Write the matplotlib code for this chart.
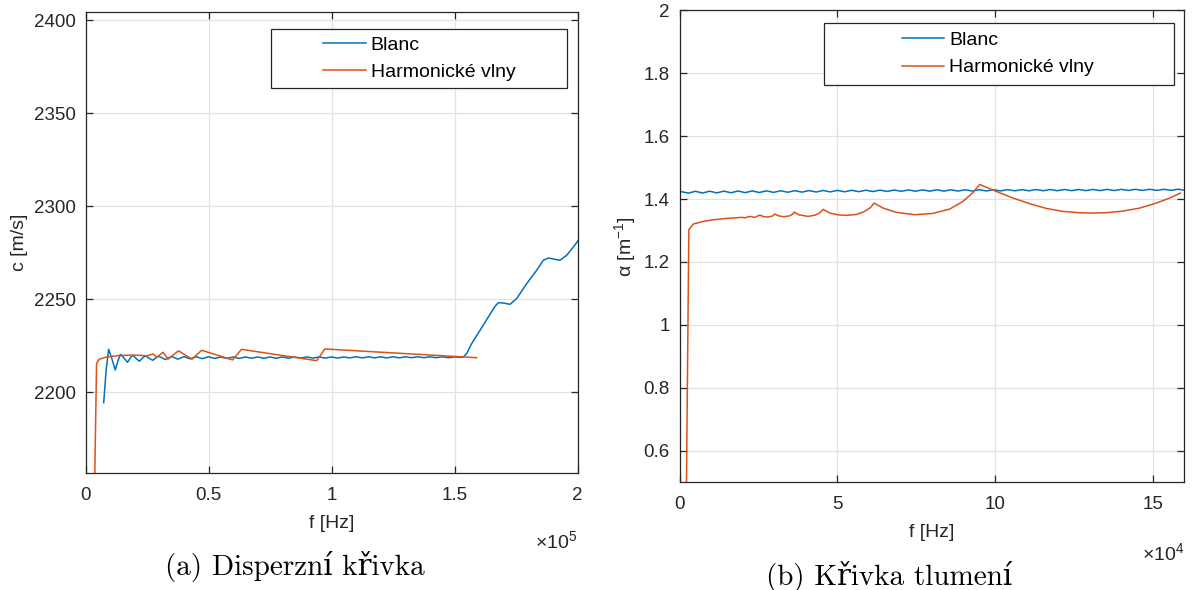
import matplotlib.pyplot as plt
import numpy as np
from matplotlib.patches import Rectangle
from matplotlib.ticker import FormatStrFormatter

plt.rcParams['font.family'] = ['Liberation Sans', 'DejaVu Sans']
plt.rcParams['mathtext.fontset'] = 'custom'
plt.rcParams['mathtext.rm'] = 'Liberation Sans'
plt.rcParams['mathtext.it'] = 'Liberation Sans:italic'

BLUE = '#0072BD'
ORANGE = '#D95319'
DARK = '#262626'

# (a) disperzni krivka - f [Hz], c [m/s]
blanc_a_f = [7400, 8400, 9400, 10500, 12100, 13200, 14200, 15600, 17100, 18200,
             19200, 20500, 21900, 23100, 24300, 25800, 27300, 28500, 29700, 31100, 32500,
             35000, 37500, 40000, 42500, 45000, 47500, 50000, 52500, 55000, 57500,
             60000, 62500, 65000, 67500, 70000, 72500, 75000, 77500, 80000, 82500,
             85000, 87500, 90000, 92500, 95000, 97500, 100000, 102500, 105000, 107500,
             110000, 112500, 115000, 117500, 120000, 122500, 125000, 127500, 130000, 132500,
             135000, 137500, 140000, 142500, 145000, 147500, 150000, 152000,
             153590, 154940, 156980, 160370, 163750, 166460, 167820, 169850, 172560, 175270,
             179340, 183400, 186110, 188140, 190850, 192880, 195600, 198300, 200340]
blanc_a_c = [2194.4, 2212.0, 2223.1, 2219.0, 2212.0, 2217.0, 2220.4, 2218.5, 2216.1, 2218.5,
             2219.9, 2218.3, 2216.7, 2218.3, 2219.6, 2218.4, 2217.2, 2218.4, 2219.4, 2218.5, 2217.6,
             2219.3, 2217.8, 2219.2, 2218.0, 2219.1, 2218.1, 2219.1, 2218.2, 2219.0, 2218.2,
             2219.0, 2218.2, 2219.0, 2218.3, 2219.0, 2218.3, 2219.0, 2218.3, 2219.0, 2218.3,
             2219.0, 2218.4, 2219.0, 2218.4, 2219.0, 2218.4, 2219.0, 2218.4, 2219.0, 2218.5,
             2219.1, 2218.5, 2219.1, 2218.5, 2219.1, 2218.5, 2219.1, 2218.5, 2219.1, 2218.6,
             2219.1, 2218.6, 2219.1, 2218.6, 2219.1, 2218.6, 2219.0, 2218.8,
             2219.0, 2220.8, 2226.2, 2233.3, 2240.5, 2246.2, 2248.2, 2248.0, 2247.3, 2250.4,
             2258.4, 2265.6, 2271.0, 2272.2, 2271.5, 2271.0, 2273.7, 2278.1, 2281.7]

harm_a_f = [3700, 4500, 5600, 8300, 13700, 20500, 24800, 27500, 29000, 31500,
            33600, 37800, 43300, 47200, 59800, 63400, 94000, 97300, 159000]
harm_a_c = [2150.0, 2215.6, 2217.8, 2218.9, 2219.8, 2220.0, 2219.6, 2220.6, 2218.8, 2221.5,
            2217.9, 2222.3, 2217.8, 2222.6, 2217.4, 2223.1, 2217.0, 2223.3, 2218.6]

# (b) krivka tlumeni - f [Hz], alpha [1/m]
blanc_b_f = [500, 2750, 5000, 7250, 9500, 11750, 14000, 16250, 18500, 20750,
             23000, 25250, 27500, 29750, 32000, 34250, 36500, 38750, 41000, 43250,
             45500, 47750, 50000, 52250, 54500, 56750, 59000, 61250, 63500, 65750,
             68000, 70250, 72500, 74750, 77000, 79250, 81500, 83750, 86000, 88250,
             90500, 92750, 95000, 97250, 99500, 101750, 104000, 106250, 108500, 110750,
             113000, 115250, 117500, 119750, 122000, 124250, 126500, 128750, 131000, 133250,
             135500, 137750, 140000, 142250, 144500, 146750, 149000, 151250, 153500, 155750,
             158000, 160250]
blanc_b_a = [1.4235, 1.4189, 1.4247, 1.4192, 1.4250, 1.4196, 1.4252, 1.4200, 1.4256, 1.4204,
             1.4259, 1.4208, 1.4262, 1.4212, 1.4264, 1.4216, 1.4267, 1.4220, 1.4270, 1.4224,
             1.4273, 1.4228, 1.4276, 1.4231, 1.4279, 1.4235, 1.4281, 1.4239, 1.4284, 1.4242,
             1.4287, 1.4246, 1.4290, 1.4249, 1.4292, 1.4251, 1.4294, 1.4253, 1.4294, 1.4255,
             1.4295, 1.4256, 1.4296, 1.4258, 1.4297, 1.4259, 1.4299, 1.4262, 1.4300, 1.4263,
             1.4302, 1.4265, 1.4303, 1.4266, 1.4304, 1.4267, 1.4305, 1.4268, 1.4306, 1.4270,
             1.4307, 1.4271, 1.4308, 1.4273, 1.4310, 1.4274, 1.4311, 1.4275, 1.4312, 1.4276,
             1.4313, 1.4277]

harm_b_f = [2100, 2900, 4300, 7500, 10600, 14900, 17000, 18600, 19600, 20700,
            22300, 23700, 25400, 26500, 27800, 29300, 30200, 31400, 33000, 34800,
            35800, 36300, 37800, 40700, 43000, 44500, 45500, 47500, 50000, 52900,
            56000, 58500, 60500, 61600, 64500, 68700, 74500, 80300, 85600, 89800,
            93000, 95100, 100400, 105700, 111000, 116200, 121500, 126800, 130000, 135200,
            140500, 145800, 151100, 155300, 158700]
harm_b_a = [0.45, 1.3025, 1.3206, 1.329, 1.3343, 1.3384, 1.3400, 1.3410, 1.3418, 1.3405,
            1.3449, 1.3418, 1.3491, 1.3445, 1.3428, 1.3455, 1.3523, 1.3465, 1.3439, 1.3465,
            1.3520, 1.3586, 1.3500, 1.3449, 1.3490, 1.3570, 1.3671, 1.3560, 1.3500, 1.3481,
            1.3510, 1.3600, 1.3730, 1.3872, 1.3713, 1.3576, 1.3502, 1.3544, 1.3682, 1.3925,
            1.4210, 1.4464, 1.4242, 1.4031, 1.3851, 1.3703, 1.3607, 1.3565, 1.3555, 1.3565,
            1.3618, 1.3713, 1.3872, 1.4031, 1.4190]

W, H = 1195, 590
fig = plt.figure(figsize=(W / 100, H / 100), dpi=100)

def px_axes(x0, y0, x1, y1):
    return fig.add_axes([x0 / W, 1 - y1 / H, (x1 - x0) / W, (y1 - y0) / H])

def style(ax):
    ax.grid(True, color='#e2e2e2', lw=0.9)
    ax.set_axisbelow(True)
    for s in ax.spines.values():
        s.set_color(DARK)
        s.set_linewidth(0.9)
    ax.tick_params(direction='in', length=5, width=0.9, top=True, right=True,
                   colors=DARK, labelsize=13.5)
    ax.tick_params(axis='x', pad=10)
    ax.tick_params(axis='y', pad=7)

def legend_box(ax, x0, y0, x1, y1, lx, ly):
    ax.add_patch(Rectangle((x0 / W, 1 - y1 / H), (x1 - x0) / W, (y1 - y0) / H,
                           transform=fig.transFigure, facecolor='white', edgecolor=DARK,
                           lw=0.9, zorder=4, clip_on=False))
    ax.legend(loc='center left', bbox_to_anchor=(lx / W, 1 - ly / H),
              bbox_transform=fig.transFigure, frameon=False, fontsize=14,
              handlelength=2.2, handletextpad=0.25, labelspacing=0.5,
              borderpad=0, borderaxespad=0)

# ---- (a)
ax1 = px_axes(85.5, 12, 577.5, 473)
style(ax1)
ax1.plot(np.array(blanc_a_f) / 1e5, blanc_a_c, color=BLUE, lw=1.1, label='Blanc')
ax1.plot(np.array(harm_a_f) / 1e5, harm_a_c, color=ORANGE, lw=1.1, label='Harmonické vlny')
ax1.set_xlim(0, 2)
ax1.set_ylim(2156.6, 2404.5)
ax1.set_xticks([0, 0.5, 1, 1.5, 2])
ax1.set_yticks([2200, 2250, 2300, 2350, 2400])
ax1.xaxis.set_major_formatter(FormatStrFormatter('%g'))
ax1.set_xlabel('f [Hz]', fontsize=14, color=DARK, labelpad=8)
ax1.set_ylabel('c [m/s]', fontsize=14, color=DARK)
legend_box(ax1, 271, 29, 567, 88, 323, 58.5)
fig.text(577.5 / W, 1 - 541 / H, '×10$^{5}$', ha='right', va='center', fontsize=14, color=DARK)

# ---- (b)
ax2 = px_axes(679.7, 10.3, 1184.4, 482.2)
style(ax2)
ax2.plot(np.array(blanc_b_f) / 1e4, blanc_b_a, color=BLUE, lw=1.1, label='Blanc')
ax2.plot(np.array(harm_b_f) / 1e4, harm_b_a, color=ORANGE, lw=1.1, label='Harmonické vlny')
ax2.set_xlim(0, 16)
ax2.set_ylim(0.5, 2.0)
ax2.set_xticks([0, 5, 10, 15])
ax2.set_yticks([0.6, 0.8, 1.0, 1.2, 1.4, 1.6, 1.8, 2.0])
ax2.yaxis.set_major_formatter(FormatStrFormatter('%g'))
ax2.set_xlabel('f [Hz]', fontsize=14, color=DARK, labelpad=8)
ax2.set_ylabel('α [m$^{-1}$]', fontsize=14, color=DARK)
legend_box(ax2, 824, 23.3, 1174, 85, 901.7, 54)
fig.text(1184.4 / W, 1 - 553 / H, '×10$^{4}$', ha='right', va='center', fontsize=14, color=DARK)

# popisky
fig.text(295 / W, 1 - 566 / H, '(a) Disperzní křivka', ha='center', va='center',
         fontsize=21, family=['cmr10', 'DejaVu Serif'])
fig.text(889 / W, 1 - 576 / H, '(b) Křivka tlumení', ha='center', va='center',
         fontsize=21, family=['cmr10', 'DejaVu Serif'])

fig.savefig('out.png', dpi=100)
